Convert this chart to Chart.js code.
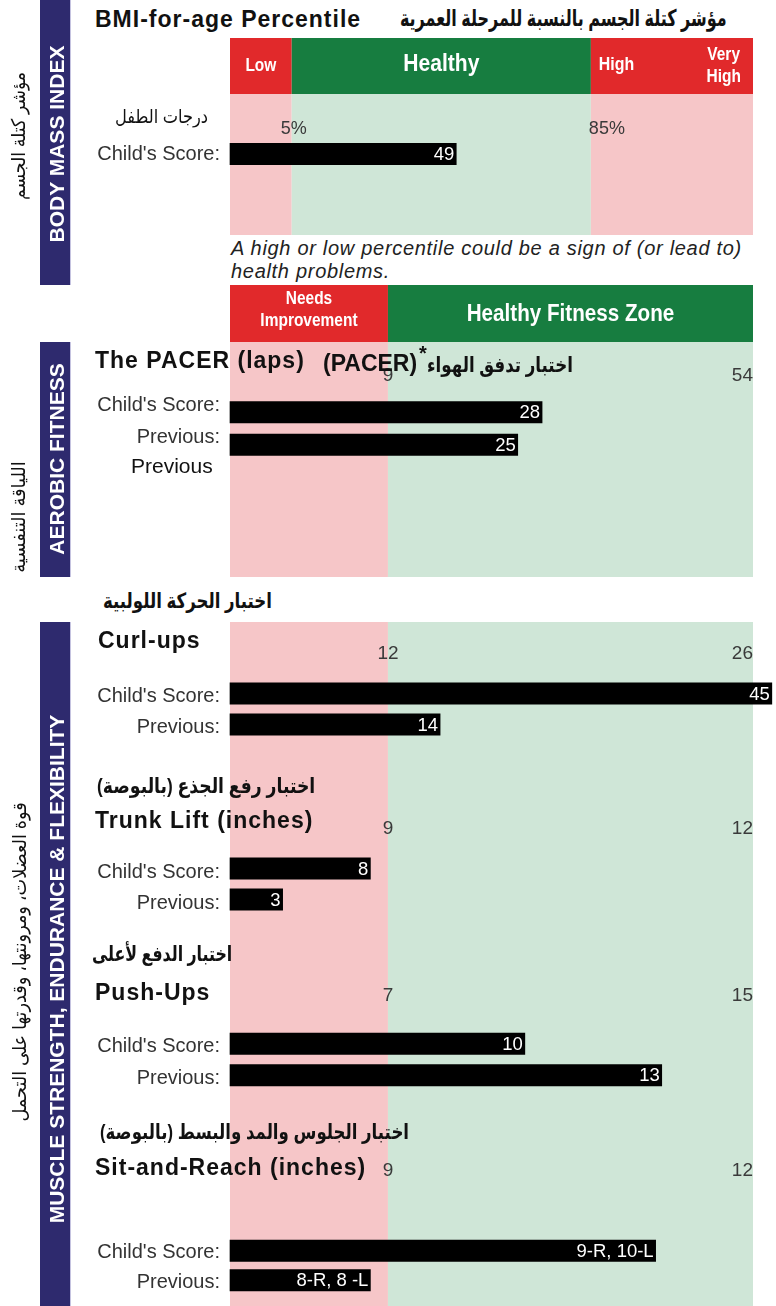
<!DOCTYPE html>
<html>
<head>
<meta charset="utf-8">
<script src="https://cdn.jsdelivr.net/npm/chart.js@4.4.1/dist/chart.umd.min.js"></script>
<style>
  html, body { margin: 0; padding: 0; background: #fff; }
  body { width: 776px; height: 1306px; position: relative; overflow: hidden;
         font-family: "Liberation Sans", Arial, "DejaVu Sans", sans-serif; }
  canvas { position: absolute; left: 0; }
  .band { position: absolute; left: 40px; width: 30px; background: #2e2a6e; box-shadow: 1px 0 0 #c5c3e0; }
  .t { position: absolute; white-space: nowrap; line-height: 1; transform: translateY(-50%); color: #111; }
  .title { font-weight: bold; font-size: 23px; letter-spacing: 1px; }
  .ar { font-weight: bold; font-size: 21px; direction: rtl; }
  .arr { font-size: 19px; direction: rtl; }
  .note { font-style: italic; font-size: 20px; letter-spacing: 0.7px; color: #222; }
  .prev { font-size: 21px; }
  .v { position: absolute; white-space: nowrap; line-height: 1; transform: translate(-50%, -50%) rotate(-90deg); }
  .vband { color: #fff; font-weight: bold; font-size: 21px; }
  .var { font-size: 19px; color: #111; direction: rtl; }
</style>
</head>
<body>

<div class="band" style="top:0;height:285px"></div>
<div class="band" style="top:342px;height:235px"></div>
<div class="band" style="top:622px;height:684px"></div>

<canvas id="bmi" style="top:38px" width="776" height="197"></canvas>
<canvas id="pacer" style="top:285px" width="776" height="292"></canvas>
<canvas id="curl" style="top:622px" width="776" height="126"></canvas>
<canvas id="trunk" style="top:748px" width="776" height="177"></canvas>
<canvas id="push" style="top:925px" width="776" height="175"></canvas>
<canvas id="sit" style="top:1100px" width="776" height="206"></canvas>

<div class="v vband" style="left:55.5px;top:144px">BODY MASS INDEX</div>
<div class="v vband" style="left:55.5px;top:459px">AEROBIC FITNESS</div>
<div class="v vband" style="left:55.5px;top:969px">MUSCLE STRENGTH, ENDURANCE &amp; FLEXIBILITY</div>
<div class="v var" data-w="128" style="left:18px;top:136px">مؤشر كتلة الجسم</div>
<div class="v var" data-w="111" style="left:18px;top:517px">اللياقة التنفسية</div>
<div class="v var" data-w="319" style="left:19px;top:962px">قوة العضلات، ومرونتها، وقدرتها على التحمل</div>

<div class="t title" style="left:95px;top:18.5px">BMI-for-age Percentile</div>
<div class="t ar" data-w="327" style="right:49px;top:18px;font-size:23px">مؤشر كتلة الجسم بالنسبة للمرحلة العمرية</div>
<div class="t arr" data-w="93" style="right:568px;top:116px">درجات الطفل</div>
<div class="t note" style="left:231px;top:248px">A high or low percentile could be a sign of (or lead to)</div>
<div class="t note" style="left:231px;top:271px">health problems.</div>

<div class="t title" style="left:95px;top:360px">The PACER (laps)</div>
<div class="t" style="left:323px;top:362.5px;font-weight:bold;font-size:23px">(PACER)</div>
<div class="t" style="left:419px;top:353px;font-weight:bold;font-size:20px">*</div>
<div class="t ar" data-w="146" style="right:203px;top:364px">اختبار تدفق الهواء</div>
<div class="t prev" style="left:131px;top:465px">Previous</div>

<div class="t ar" data-w="169" style="right:504px;top:600px">اختبار الحركة اللولبية</div>
<div class="t title" style="left:98px;top:640px">Curl-ups</div>
<div class="t ar" data-w="218" style="right:461px;top:785px">اختبار رفع الجذع (بالبوصة)</div>
<div class="t title" style="left:95px;top:820px">Trunk Lift (inches)</div>
<div class="t ar" data-w="140" style="right:544px;top:953px">اختبار الدفع لأعلى</div>
<div class="t title" style="left:95px;top:991.5px">Push-Ups</div>
<div class="t ar" data-w="309" style="right:367px;top:1131px">اختبار الجلوس والمد والبسط (بالبوصة)</div>
<div class="t title" style="left:95px;top:1166.5px">Sit-and-Reach (inches)</div>

<script>
// scores
const rowLabels = ["Child's Score:", "Previous:"];

const bmiCuts = [5, 85];
const bmiScores = [49];

const pacerZone = [9, 54];
const pacerScores = [28, 25];

const curlZone = [12, 26];
const curlScores = [45, 14];

const trunkZone = [9, 12];
const trunkScores = [8, 3];

const pushZone = [7, 15];
const pushScores = [10, 13];

const sitZone = [9, 12];
const sitScores = [11.2, 8];
const sitText = ['9-R, 10-L', '8-R, 8 -L'];

const RED = '#e1292b', GREEN = '#177d40', PINK = '#f6c6c8', MINT = '#cfe6d7';
const NI_SPLIT = 0.302;   // share of the grid for "needs improvement"
const OVER = 1.036;       // bars past the top value stop just after the grid
const FONT = '"Liberation Sans", Arial, sans-serif';

Chart.defaults.font.family = FONT;
Chart.defaults.color = '#333';

// linear scale with a piecewise mapping, so each zone gets its own width
class ZoneScale extends Chart.LinearScale {
    getPixelForValue(value) {
        if (value === null || value === undefined || isNaN(value)) return NaN;
        const br = this.options.breaks;
        let i = 1;
        while (i < br.length - 1 && value > br[i][0]) i++;
        const a = br[i - 1], b = br[i];
        let f = a[1] + (value - a[0]) / (b[0] - a[0]) * (b[1] - a[1]);
        f = Math.min(f, this.options.maxDecimal || 1);
        return this.getPixelForDecimal(f);
    }
    getValueForPixel(pixel) {
        const br = this.options.breaks;
        const f = this.getDecimalForPixel(pixel);
        let i = 1;
        while (i < br.length - 1 && f > br[i][1]) i++;
        const a = br[i - 1], b = br[i];
        return a[0] + (f - a[1]) / (b[1] - a[1]) * (b[0] - a[0]);
    }
}
ZoneScale.id = 'zone';
ZoneScale.defaults = Chart.LinearScale.defaults;
Chart.register(ZoneScale);

function fitness(zone, scores, texts, box) {
    return Object.assign({
        labels: rowLabels.slice(0, scores.length),
        values: scores,
        texts: texts || scores.map(String),
        max: zone[1],
        breaks: [[0, 0], [zone[0], NI_SPLIT], [zone[1], 1]],
        bands: [[0, zone[0], PINK], [zone[0], zone[1], MINT]],
        ticks: [
            { value: zone[0], text: String(zone[0]), align: 'center', dx: 0 },
            { value: zone[1], text: String(zone[1]), align: 'right', dx: 0 }
        ]
    }, box);
}

const layouts = {
    bmi: {
        labels: [rowLabels[0]],
        values: bmiScores,
        texts: bmiScores.map(String),
        max: 100,
        breaks: [[0, 0], [bmiCuts[0], 0.118], [bmiCuts[1], 0.69], [100, 1]],
        bands: [[0, bmiCuts[0], PINK], [bmiCuts[0], bmiCuts[1], MINT], [bmiCuts[1], 100, PINK]],
        ticks: [
            { value: bmiCuts[0], text: bmiCuts[0] + '%', align: 'center', dx: 2 },
            { value: bmiCuts[1], text: bmiCuts[1] + '%', align: 'left', dx: -2 }
        ],
        header: {
            height: 56,
            zones: [[0, bmiCuts[0], RED], [bmiCuts[0], bmiCuts[1], GREEN], [bmiCuts[1], 100, RED]],
            labels: [
                { text: 'Low', from: 0, to: bmiCuts[0], align: 'center', dx: 0, y: 28, size: 18 },
                { text: 'Healthy', from: bmiCuts[0], to: bmiCuts[1], align: 'center', dx: 0, y: 26, size: 24.5 },
                { text: 'High', from: bmiCuts[1], to: 100, align: 'left', dx: 8, y: 27, size: 18.5 },
                { text: 'Very', from: bmiCuts[1], to: 100, align: 'right', dx: 13, y: 17, size: 18 },
                { text: 'High', from: bmiCuts[1], to: 100, align: 'right', dx: 12, y: 39, size: 18 }
            ]
        },
        padTop: 95, padBottom: 60, tickGap: 4, labelShift: 0
    },
    pacer: fitness(pacerZone, pacerScores, null, {
        header: {
            height: 57,
            zones: [[0, pacerZone[0], RED], [pacerZone[0], pacerZone[1], GREEN]],
            labels: [
                { text: 'Needs', from: 0, to: pacerZone[0], align: 'center', dx: 0, y: 14, size: 18 },
                { text: 'Improvement', from: 0, to: pacerZone[0], align: 'center', dx: 0, y: 36, size: 18 },
                { text: 'Healthy Fitness Zone', from: pacerZone[0], to: pacerZone[1], align: 'center', dx: 0, y: 29.5, size: 24 }
            ]
        },
        padTop: 111, padBottom: 116, tickGap: 20, labelShift: -7
    }),
    curl: fitness(curlZone, curlScores, null, { padTop: 56, padBottom: 8, tickGap: 24.5, labelShift: 3 }),
    trunk: fitness(trunkZone, trunkScores, null, { padTop: 105, padBottom: 10, tickGap: 24.5, labelShift: 4 }),
    push: fitness(pushZone, pushScores, null, { padTop: 103, padBottom: 9, tickGap: 32, labelShift: 3 }),
    sit: fitness(sitZone, sitScores, sitText, { padTop: 136, padBottom: 11, tickGap: 65.5, labelShift: 2 })
};

function condensed(ctx, text, x, y, align) {
    ctx.save();
    ctx.translate(x, y);
    ctx.scale(0.86, 1);
    ctx.textAlign = align;
    ctx.fillText(text, 0, 0);
    ctx.restore();
}

const zonePlugin = {
    id: 'zones',
    beforeDraw(chart) {
        const L = layouts[chart.canvas.id];
        const ctx = chart.ctx, xs = chart.scales.x;
        const px = v => xs.getPixelForValue(v);
        const head = L.header ? L.header.height : 0;
        ctx.save();
        L.bands.forEach(b => {
            ctx.fillStyle = b[2];
            ctx.fillRect(px(b[0]), head, px(b[1]) - px(b[0]), chart.height - head);
        });
        if (L.header) {
            L.header.zones.forEach(z => {
                ctx.fillStyle = z[2];
                ctx.fillRect(px(z[0]), 0, px(z[1]) - px(z[0]), head);
            });
            ctx.fillStyle = '#fff';
            ctx.textBaseline = 'middle';
            L.header.labels.forEach(l => {
                ctx.font = 'bold ' + l.size + 'px ' + FONT;
                const x0 = px(l.from), x1 = px(l.to);
                const x = l.align === 'left' ? x0 + l.dx : l.align === 'right' ? x1 - l.dx : (x0 + x1) / 2;
                condensed(ctx, l.text, x, l.y, l.align);
            });
        }
        ctx.restore();
    },
    afterDatasetsDraw(chart) {
        const L = layouts[chart.canvas.id];
        const ctx = chart.ctx, xs = chart.scales.x;
        ctx.save();
        ctx.textBaseline = 'middle';
        ctx.font = '18.5px ' + FONT;
        ctx.fillStyle = '#fff';
        ctx.textAlign = 'right';
        chart.getDatasetMeta(0).data.forEach((bar, i) => {
            ctx.fillText(L.texts[i], bar.x - 2, bar.y + 1);
        });
        ctx.fillStyle = '#3a3a3a';
        ctx.font = (chart.canvas.id === 'bmi' ? 18 : 19) + 'px ' + FONT;
        L.ticks.forEach(t => {
            ctx.textAlign = t.align;
            ctx.fillText(t.text, xs.getPixelForValue(t.value) + t.dx, chart.chartArea.top - L.tickGap);
        });
        ctx.restore();
    }
};

function drawTest(id) {
    const L = layouts[id];
    return new Chart(document.getElementById(id), {
        type: 'bar',
        data: {
            labels: L.labels,
            datasets: [{
                data: L.values,
                backgroundColor: '#000',
                barThickness: 21.5,
                clip: false
            }]
        },
        options: {
            indexAxis: 'y',
            responsive: false,
            animation: false,
            events: [],
            layout: { padding: { top: L.padTop, bottom: L.padBottom, left: 0, right: 23 } },
            scales: {
                x: {
                    type: 'zone',
                    display: false,
                    min: 0,
                    max: L.max,
                    breaks: L.breaks,
                    maxDecimal: OVER
                },
                y: {
                    grid: { display: false, drawTicks: false },
                    border: { display: false },
                    ticks: { color: '#333', font: { size: 20 }, padding: 10, labelOffset: L.labelShift },
                    afterFit: s => {
                        s.width = 230;
                        // labels may hang past the plot, the padding above already leaves room
                        s.paddingTop = 0;
                        s.paddingBottom = 0;
                    }
                }
            },
            plugins: {
                legend: { display: false },
                tooltip: { enabled: false }
            }
        },
        plugins: [zonePlugin]
    });
}

['bmi', 'pacer', 'curl', 'trunk', 'push', 'sit'].forEach(drawTest);

// the arabic fallback font runs wider than the report's, squeeze each line to its width
document.querySelectorAll('[data-w]').forEach(el => {
    const k = el.dataset.w / el.offsetWidth;
    if (el.classList.contains('v')) {
        el.style.transform = 'translate(-50%, -50%) rotate(-90deg) scaleX(' + k + ')';
    } else {
        el.style.transformOrigin = 'right center';
        el.style.transform = 'translateY(-50%) scaleX(' + k + ')';
    }
});
</script>
</body>
</html>
